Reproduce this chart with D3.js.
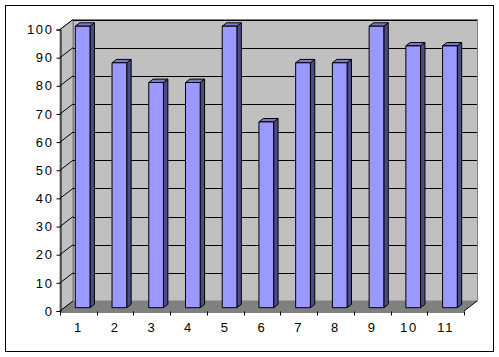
<!DOCTYPE html>
<html>
<head>
<meta charset="utf-8">
<script src="https://cdn.jsdelivr.net/npm/d3@7"></script>
<style>
  body { margin: 0; background: #fff; }
  svg { display: block; }
  text { font-family: Arial, "Liberation Sans", sans-serif; }
</style>
</head>
<body>
<div id="chart"></div>
<script>
// values (out of 100)
var categories = ["1", "2", "3", "4", "5", "6", "7", "8", "9", "10", "11"];
var values = [100, 87, 80, 80, 100, 66, 87, 87, 100, 93, 93];
var yTicks = [0, 10, 20, 30, 40, 50, 60, 70, 80, 90, 100];

var W = 499, H = 357;

var svg = d3.select("#chart").append("svg")
    .attr("width", W)
    .attr("height", H);

// outer frame
svg.append("rect")
    .attr("x", 5.5).attr("y", 5.5)
    .attr("width", 488).attr("height", 346)
    .attr("fill", "#fff")
    .attr("stroke", "#000");

// depth of the 3d box
var dx = 13, dy = -10;

var x = d3.scaleBand()
    .domain(categories)
    .range([60, 464]);

var y = d3.scaleLinear()
    .domain([0, 100])
    .range([311, 29.5]);

function pt(px, py, f) {
    return [px + dx * f, py + dy * f];
}

var g = svg.append("g");

// left side wall
g.append("polygon")
    .attr("points", [pt(60, y(100), 0), pt(60, y(100), 1), pt(60, y(0), 1), pt(60, y(0), 0)].join(" "))
    .attr("fill", "#c0c0c0")
    .attr("stroke", "#808080");

// back wall
g.append("rect")
    .attr("x", 60 + dx + 0.5)
    .attr("y", y(100) + dy)
    .attr("width", 464 - 60)
    .attr("height", y(0) - y(100))
    .attr("fill", "#c0c0c0")
    .attr("stroke", "#808080");

// floor
g.append("polygon")
    .attr("points", [pt(60, y(0), 0), pt(60, y(0), 1), pt(464, y(0), 1), pt(464, y(0), 0)].join(" "))
    .attr("fill", "#808080");

// gridlines on back wall and side wall
yTicks.forEach(function (v) {
    if (v > 0) {
        g.append("line")
            .attr("x1", 60 + dx).attr("x2", 464 + dx)
            .attr("y1", Math.round(y(v) + dy) + 0.5).attr("y2", Math.round(y(v) + dy) + 0.5)
            .attr("stroke", "#000");
    }
    g.append("line")
        .attr("x1", 60).attr("y1", y(v))
        .attr("x2", 60 + dx).attr("y2", y(v) + dy)
        .attr("stroke", "#000");
});

// right edge of floor
g.append("line")
    .attr("x1", 464).attr("y1", y(0))
    .attr("x2", 464 + dx).attr("y2", y(0) + dy)
    .attr("stroke", "#000");

// bars: front at f0, back at f1 of the depth
var f0 = 0.33, f1 = 0.67;
var bw = x.bandwidth() / 2.5;

var bars = g.selectAll(".bar")
    .data(values)
    .enter()
    .append("g")
    .attr("class", "bar");

bars.each(function (d, i) {
    var el = d3.select(this);
    var cx = x(categories[i]) + x.bandwidth() / 2;
    var x0 = cx - bw / 2, x1 = cx + bw / 2;
    var yt = y(d), yb = y(0);

    // side face
    el.append("polygon")
        .attr("points", [pt(x1, yt, f0), pt(x1, yt, f1), pt(x1, yb, f1), pt(x1, yb, f0)].join(" "))
        .attr("fill", "#4c4c85")
        .attr("stroke", "#000")
        .attr("stroke-linejoin", "round");
    // top face
    el.append("polygon")
        .attr("points", [pt(x0, yt, f0), pt(x0, yt, f1), pt(x1, yt, f1), pt(x1, yt, f0)].join(" "))
        .attr("fill", "#7878cc")
        .attr("stroke", "#000")
        .attr("stroke-linejoin", "round");
    // front face
    el.append("polygon")
        .attr("points", [pt(x0, yt, f0), pt(x1, yt, f0), pt(x1, yb, f0), pt(x0, yb, f0)].join(" "))
        .attr("fill", "#9999ff")
        .attr("stroke", "#000")
        .attr("stroke-linejoin", "round");
});

// y axis
var yAxis = d3.axisLeft(y)
    .tickValues(yTicks)
    .tickSize(4)
    .tickPadding(3);

var ya = svg.append("g")
    .attr("class", "y-axis")
    .attr("transform", "translate(60.5,0)")
    .call(yAxis);

ya.select(".domain").attr("stroke", "#000");
ya.selectAll("line").attr("stroke", "#000");
ya.selectAll("text")
    .attr("fill", "#000")
    .style("font-size", "13px")
    .style("letter-spacing", "1.6px");

// x axis (labels centered, ticks at band edges)
var xAxis = d3.axisBottom(x)
    .tickSize(0)
    .tickPadding(11);

var xa = svg.append("g")
    .attr("class", "x-axis")
    .attr("transform", "translate(0," + (y(0) + 0.5) + ")")
    .call(xAxis);

xa.select(".domain").attr("stroke", "#000");
xa.selectAll("text")
    .attr("fill", "#000")
    .style("font-size", "13px")
    .style("letter-spacing", "1.6px");

var edges = categories.map(function (c) { return x(c); }).concat([464]);
xa.selectAll(".edge")
    .data(edges)
    .enter()
    .append("line")
    .attr("class", "edge")
    .attr("x1", function (d) { return Math.round(d) + 0.5; })
    .attr("x2", function (d) { return Math.round(d) + 0.5; })
    .attr("y1", 0).attr("y2", 4)
    .attr("stroke", "#000");
</script>
</body>
</html>
